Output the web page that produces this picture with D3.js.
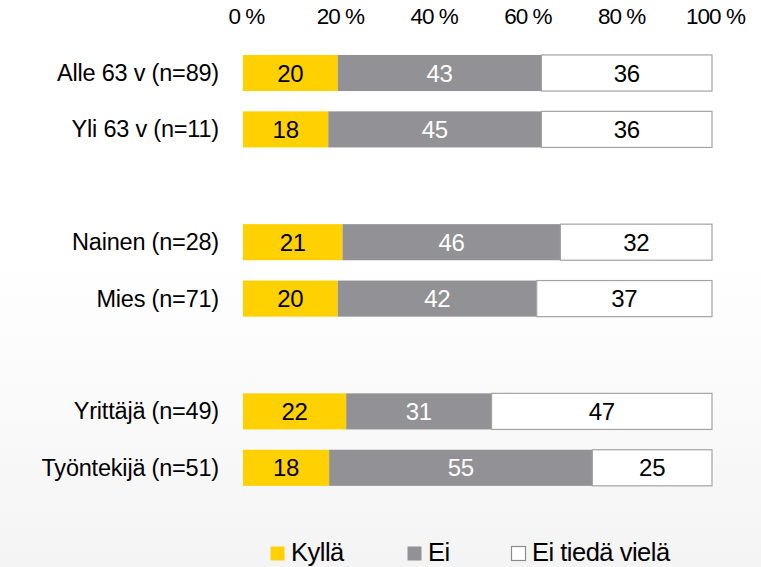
<!DOCTYPE html>
<html>
<head>
<meta charset="utf-8">
<script src="https://cdn.jsdelivr.net/npm/d3@7"></script>
<style>
  html, body { margin: 0; padding: 0; }
  body { width: 761px; height: 567px; overflow: hidden; }
  svg text { font-family: "Liberation Sans", Arial, sans-serif; fill: #000; }
</style>
</head>
<body>
<div id="chart"></div>
<script>
(function () {
    "use strict";

    // ---- data ----------------------------------------------------
    // blank rows ("gap1", "gap2") separate the three groups
    const rows = ["Alle 63 v (n=89)", "Yli 63 v (n=11)", "gap1",
                  "Nainen (n=28)", "Mies (n=71)", "gap2",
                  "Yrittäjä (n=49)", "Työntekijä (n=51)"];
    const series = ["Kyllä", "Ei", "Ei tiedä vielä"];
    const kylla = [20, 18, null, 21, 20, null, 22, 18];
    const ei    = [43, 45, null, 46, 42, null, 31, 55];
    const eiTieda = [36, 36, null, 32, 37, null, 47, 25];
    const ticks = [0, 20, 40, 60, 80, 100];

    const COLORS = {
        "Kyllä": "#FFD100",
        "Ei": "#929195",
        "Ei tiedä vielä": "#FFFFFF"
    };
    const LABEL_FILL = { "Kyllä": "#000", "Ei": "#fff", "Ei tiedä vielä": "#000" };

    const W = 761, H = 567;

    const table = rows.map((r, i) => ({
        row: r, "Kyllä": kylla[i], "Ei": ei[i], "Ei tiedä vielä": eiTieda[i]
    })).filter(d => d["Kyllä"] !== null);

    const svg = d3.select("#chart").append("svg")
        .attr("width", W).attr("height", H);

    // soft grey fade toward the bottom
    const grad = svg.append("defs").append("linearGradient")
        .attr("id", "bg").attr("x1", 0).attr("y1", 0).attr("x2", 0).attr("y2", 1);
    grad.append("stop").attr("offset", "0%").attr("stop-color", "#ffffff");
    grad.append("stop").attr("offset", "45%").attr("stop-color", "#ffffff");
    grad.append("stop").attr("offset", "100%").attr("stop-color", "#f4f4f4");
    svg.append("rect").attr("width", W).attr("height", H).attr("fill", "url(#bg)");

    // ---- scales --------------------------------------------------
    const x = d3.scaleLinear().domain([0, 100]).range([243, 712]);
    const y = d3.scaleBand().domain(rows).range([44.8, 496])
        .paddingInner(0.36).paddingOuter(0.18);

    // each row is normalised so the three parts fill the bar
    const stacked = d3.stack().keys(series).offset(d3.stackOffsetExpand)(table);

    // ---- top axis ------------------------------------------------
    const axis = svg.append("g")
        .attr("transform", "translate(3,0)")
        .call(d3.axisTop(x).tickValues(ticks).tickSize(0).tickFormat(d => d + " %"));
    axis.select(".domain").remove();
    axis.selectAll("text")
        .attr("y", 24).attr("dy", null)
        .style("font-size", "22.5px").style("letter-spacing", "-1px")
        .style("font-family", "'Liberation Sans', Arial, sans-serif")
        .attr("fill", "#000");

    // ---- bars ----------------------------------------------------
    const layer = svg.append("g").selectAll("g")
        .data(stacked)
        .join("g");

    layer.selectAll("rect")
        .data(s => s.map(p => Object.assign({ key: s.key }, p)))
        .join("rect")
        .attr("x", d => x(d[0] * 100))
        .attr("y", d => y(d.data.row))
        .attr("width", d => x(d[1] * 100) - x(d[0] * 100))
        .attr("height", y.bandwidth())
        .attr("fill", d => COLORS[d.key])
        .attr("stroke", d => d.key === "Ei tiedä vielä" ? "#a3a3a3" : "none")
        .attr("stroke-width", 1.2);

    layer.selectAll("text")
        .data(s => s.map(p => Object.assign({ key: s.key }, p)))
        .join("text")
        .attr("x", d => (x(d[0] * 100) + x(d[1] * 100)) / 2)
        .attr("y", d => y(d.data.row) + y.bandwidth() / 2 + 8.5)
        .attr("text-anchor", "middle")
        .style("font-size", "24px")
        .style("letter-spacing", "-0.3px")
        .style("fill", d => LABEL_FILL[d.key])
        .text(d => d.data[d.key]);

    // ---- row labels ----------------------------------------------
    svg.append("g").selectAll("text")
        .data(table)
        .join("text")
        .attr("x", 219)
        .attr("y", d => y(d.row) + y.bandwidth() / 2 + 8)
        .attr("text-anchor", "end")
        .style("font-size", "23.5px")
        .style("letter-spacing", "-0.2px")
        .text(d => d.row);

    // ---- legend --------------------------------------------------
    const legendX = [270, 407, 511];
    const legend = svg.append("g").selectAll("g")
        .data(series)
        .join("g")
        .attr("transform", (d, i) => `translate(${legendX[i]},546)`);
    legend.append("rect")
        .attr("x", 0.5).attr("y", 0.5)
        .attr("width", 14).attr("height", 14)
        .attr("fill", d => COLORS[d])
        .attr("stroke", d => d === "Ei tiedä vielä" ? "#8c8c8c" : "none")
        .attr("stroke-width", 1.2);
    legend.append("text")
        .attr("x", 21).attr("y", 15)
        .style("font-size", "25.5px")
        .style("letter-spacing", "-0.5px")
        .text(d => d);
})();
</script>
</body>
</html>
